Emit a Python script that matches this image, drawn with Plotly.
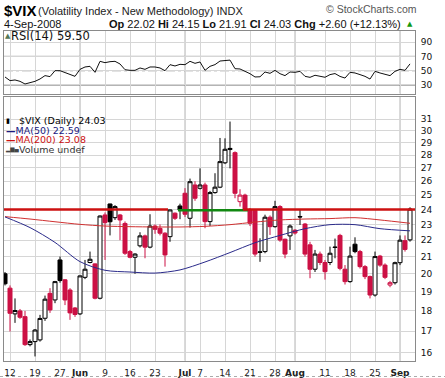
import math
import pandas as pd
import plotly.graph_objects as go

W, H = 445, 378


def px(x):
    return x / W


def py(y):
    return 1 - y / H


# ---------------- data ----------------
holidays = ["2008-05-26", "2008-07-04", "2008-09-01"]
day_keys = [d.strftime("%Y-%m-%d") for d in pd.bdate_range("2008-05-09", "2008-09-04")
            if d.strftime("%Y-%m-%d") not in holidays]
xpos = list(range(len(day_keys)))

opens = [20.0, 19.2, 17.85, 18.0, 17.71, 16.36, 16.5, 16.58, 17.63, 18.92,
         18.57, 20.8, 19.66, 19.1, 18.15, 17.85, 19.8, 20.65, 20.57, 18.66,
         23.63, 24.38, 23.45, 23.63, 23.07, 21.3, 20.96, 21.65, 22.27, 21.57,
         22.9, 22.75, 22.44, 22.22, 23.75, 24.24, 25.13, 23.41, 25.73, 25.49,
         25.73, 23.19, 25.18, 25.57, 27.4, 28.45, 28.2, 24.54, 25.0, 24.0,
         23.95, 21.25, 21.3, 23.48, 22.86, 24.2, 22.06, 22.27, 22.63, 23.53,
         23.03, 21.71, 20.26, 21.15, 20.65, 20.65, 21.58, 22.3, 20.26, 19.56,
         21.75, 21.3, 20.41, 19.84, 18.83, 21.03, 20.5, 19.37, 19.5, 20.64,
         21.97, 22.02]
highs = [20.1, 19.35, 18.65, 18.1, 18.0, 16.6, 17.1, 17.8, 18.8, 19.2,
         19.6, 21.0, 19.7, 19.2, 18.2, 19.9, 20.8, 21.3, 20.6, 23.6,
         23.8, 24.4, 24.3, 23.7, 23.2, 21.4, 21.2, 22.5, 22.35, 23.68,
         23.0, 23.0, 22.5, 24.0, 23.8, 24.4, 25.5, 26.2, 26.0, 26.97,
         25.9, 25.3, 26.6, 29.4, 29.37, 30.8, 28.3, 25.42, 25.1, 24.1,
         24.0, 22.12, 23.65, 23.6, 24.6, 24.3, 22.1, 23.0, 22.7, 23.97,
         23.1, 21.9, 21.4, 21.3, 20.8, 21.6, 22.1, 22.4, 20.5, 21.6,
         22.18, 21.4, 20.5, 19.9, 21.3, 21.1, 20.6, 19.6, 20.7, 22.3,
         22.3, 24.15]
lows = [19.35, 16.98, 17.4, 17.6, 16.3, 16.28, 15.82, 16.5, 17.5, 17.9,
        18.4, 19.5, 18.3, 17.55, 17.7, 17.8, 19.7, 20.6, 18.6, 18.6,
        20.8, 22.3, 23.3, 22.0, 21.1, 20.9, 20.0, 21.55, 20.9, 21.5,
        22.4, 22.3, 20.41, 21.9, 23.3, 23.35, 23.5, 22.8, 24.6, 25.4,
        22.76, 22.9, 25.1, 25.5, 27.3, 26.97, 24.78, 24.2, 23.9, 22.9,
        21.0, 20.69, 21.2, 22.33, 22.8, 21.9, 20.9, 21.4, 22.35, 22.97,
        21.0, 19.75, 20.1, 20.5, 19.67, 20.5, 20.9, 20.2, 19.4, 19.5,
        21.2, 20.3, 19.7, 18.65, 18.75, 20.4, 19.7, 19.25, 19.4, 20.5,
        21.3, 21.91]
closes = [19.44, 17.88, 18.02, 17.68, 16.36, 16.5, 17.05, 17.62, 18.61, 18.05,
          19.56, 19.62, 18.57, 17.9, 17.82, 19.88, 20.26, 20.84, 18.66, 23.56,
          23.12, 23.18, 24.2, 23.3, 21.2, 20.96, 21.15, 22.27, 21.57, 22.9,
          22.69, 22.44, 21.1, 23.97, 23.41, 23.96, 23.68, 25.97, 24.78, 25.73,
          23.19, 25.18, 25.57, 27.49, 28.47, 28.54, 25.13, 25.0, 23.97, 23.08,
          21.15, 21.28, 23.48, 22.86, 24.2, 22.01, 21.15, 22.9, 22.45, 23.5,
          21.15, 20.26, 21.15, 20.65, 20.12, 21.2, 21.55, 20.31, 19.56, 21.03,
          21.3, 20.41, 19.84, 18.83, 21.0, 20.5, 19.8, 19.5, 20.64, 22.0,
          21.43, 24.03]
seed_close = 19.0  # close of the session before the first visible candle

rsi_vals = [41.2, 36.1, 37.0, 35.1, 31.4, 32.8, 35.1, 38.4, 43.1, 41.7,
            50.0, 50.0, 47.7, 44.4, 42.1, 51.9, 55.2, 56.1, 47.7, 63.1,
            61.2, 62.6, 63.1, 59.4, 51.4, 50.5, 50.5, 53.8, 51.9, 55.2,
            55.2, 53.8, 50.0, 58.4, 56.6, 58.9, 58.4, 63.1, 60.3, 62.2,
            50.5, 56.1, 58.5, 63.5, 64.5, 64.8, 52.8, 52.4, 49.1, 45.8,
            41.2, 41.5, 48.2, 46.3, 50.5, 45.8, 43.1, 48.2, 47.7, 49.1,
            42.1, 40.7, 43.6, 41.7, 40.8, 44.5, 46.0, 42.0, 39.7, 47.7,
            46.8, 44.5, 42.1, 38.3, 49.1, 46.8, 44.5, 43.1, 49.1, 51.9,
            50.5, 59.5]

ma_days = ["2008-05-09", "2008-05-16", "2008-05-23", "2008-06-02", "2008-06-09",
           "2008-06-16", "2008-06-23", "2008-06-30", "2008-07-08", "2008-07-15",
           "2008-07-22", "2008-07-29", "2008-08-05", "2008-08-12", "2008-08-19",
           "2008-08-26", "2008-09-04"]
ma50_vals = [23.5, 22.8, 21.86, 20.70, 20.2, 20.1, 20.04, 20.22, 20.68, 21.24,
             21.84, 22.30, 22.73, 22.99, 22.99, 22.73, 22.59]
ma200_vals = [23.52, 23.36, 23.18, 23.01, 22.90, 22.86, 22.84, 22.84, 22.88, 22.99,
              23.16, 23.30, 23.36, 23.39, 23.45, 23.30, 23.08]

# user-drawn horizontal trend lines (level, start pos, end pos, colour)
trend_levels = [24.0, 23.95, 24.0]
trend_start = [-0.2, 34.6, 47.6]
trend_end = [32.6, 48.6, 82.0]
trend_colors = ["#cc1111", "#118811", "#cc1111"]

tick_days = ["2008-05-12", "2008-05-19", "2008-05-27", "2008-06-02", "2008-06-09",
             "2008-06-16", "2008-06-23", "2008-07-01", "2008-07-07", "2008-07-14",
             "2008-07-21", "2008-07-28", "2008-08-01", "2008-08-11", "2008-08-18",
             "2008-08-25", "2008-09-02"]
tick_text = ["12", "19", "27", "<b>Jun</b>", "9", "16", "23", "<b>Jul</b>", "7", "14",
             "21", "28", "<b>Aug</b>", "11", "18", "25", "<b>Sep</b>"]
month_days = ["2008-06-02", "2008-07-01", "2008-08-01", "2008-09-02"]

price_ticks = list(range(16, 32))
rsi_ticks = [30, 50, 70, 90]

# ---------------- figure ----------------
RED = "#cc1144"
GRID = "#d6d6d6"
FONT = "DejaVu Sans"
ARIAL = "Liberation Sans"

fig = go.Figure()

prev_close = [seed_close] + closes[:-1]
groups = {"black": [], "red": []}
for k in xpos:
    groups["black" if closes[k] >= prev_close[k] else "red"].append(k)

for name, color in (("black", "#000000"), ("red", RED)):
    ks = groups[name]
    fig.add_trace(go.Candlestick(
        x=[xpos[k] for k in ks],
        open=[opens[k] for k in ks], high=[highs[k] for k in ks],
        low=[lows[k] for k in ks], close=[closes[k] for k in ks],
        increasing=dict(line=dict(color=color, width=1), fillcolor="#ffffff"),
        decreasing=dict(line=dict(color=color, width=1), fillcolor=color),
        whiskerwidth=0, hoverinfo="skip", xaxis="x", yaxis="y"))

ma_x = [day_keys.index(d) for d in ma_days]
fig.add_trace(go.Scatter(x=ma_x, y=ma200_vals, mode="lines",
                         line=dict(color="#d03030", width=1, shape="spline", smoothing=0.8),
                         hoverinfo="skip", xaxis="x", yaxis="y"))
fig.add_trace(go.Scatter(x=ma_x, y=ma50_vals, mode="lines",
                         line=dict(color="#2a2a8a", width=1, shape="spline", smoothing=0.8),
                         hoverinfo="skip", xaxis="x", yaxis="y"))
for lvl, a, b, c in zip(trend_levels, trend_start, trend_end, trend_colors):
    fig.add_trace(go.Scatter(x=[a, b], y=[lvl, lvl], mode="lines",
                             line=dict(color=c, width=2.5), hoverinfo="skip",
                             xaxis="x", yaxis="y"))

fig.add_trace(go.Scatter(x=xpos, y=rsi_vals, mode="lines",
                         line=dict(color="#111111", width=1), hoverinfo="skip",
                         xaxis="x2", yaxis="y2"))

tick_x = [day_keys.index(d) for d in tick_days]
month_x = [day_keys.index(d) for d in month_days]
xr = [-0.2, 82.0]
xdom = [px(4), px(415)]

shapes = []
for mx in month_x:
    for yr in ("y domain", "y2 domain"):
        shapes.append(dict(type="line", xref="x" if yr == "y domain" else "x2", yref=yr,
                           x0=mx, x1=mx, y0=0, y1=1,
                           line=dict(color="#b4b4b4", width=1), layer="below"))
for lv, dash in ((70, "solid"), (30, "solid"), (50, "dashdot")):
    shapes.append(dict(type="line", xref="x2 domain", yref="y2", x0=0, x1=1, y0=lv, y1=lv,
                       line=dict(color="#666666", width=1, dash=dash), layer="below"))
shapes.append(dict(type="line", xref="paper", yref="paper", x0=0, x1=1,
                   y0=py(376.5), y1=py(376.5), line=dict(color="#aaaaaa", width=1, dash="dot")))

chg = closes[-1] - closes[-2]
pct = chg / closes[-2] * 100

ann = []


def add(text, x, y, size, color="#000000", family=FONT, xanchor="left"):
    ann.append(dict(text=text, x=px(x), y=py(y), xref="paper", yref="paper",
                    xanchor=xanchor, yanchor="middle", showarrow=False, borderpad=0,
                    font=dict(family=family, size=size, color=color)))


add("<b>$VIX</b>", 3, 10.5, 15, family=ARIAL)
add("(Volatility Index - New Methodology) INDX", 37, 11, 11, "#222222", ARIAL)
add("© StockCharts.com", 418, 9.5, 10.5, "#555555", ARIAL, "right")
add("4-Sep-2008", 3, 24, 11, "#111111", ARIAL)
add("<b>Op</b> %.2f <b>Hi</b> %.2f <b>Lo</b> %.2f <b>Cl</b> %.2f <b>Chg</b> %+.2f (%+.2f%%)"
    % (opens[-1], highs[-1], lows[-1], closes[-1], chg, pct), 108, 24, 11, "#111111", ARIAL)
add("▲", 406, 24, 7, "#119911")
add("▲", 4, 35.5, 7, "#557755")
add("RSI(14) %.2f" % rsi_vals[-1], 10, 35.5, 11.5, "#111111")
add("▮", 5, 120.8, 7, "#000000")
add("$VIX (Daily) %.2f" % closes[-1], 18, 120.8, 9.5, "#000000")
add("<b>—</b>MA(50) %.2f" % ma50_vals[-1], 5, 130.2, 9.5, "#1a1a80")
add("<b>—</b>MA(200) %.2f" % ma200_vals[-1], 5, 139.6, 9.5, "#cc1111")
add("▂▆▄", 4, 149, 5.5, "#444444")
add("Volume undef", 18, 149, 9.5, "#333333")

axis_common = dict(showgrid=True, gridcolor=GRID, gridwidth=1, zeroline=False,
                   showline=True, mirror=True, linecolor="#8a8a8a", linewidth=1,
                   ticks="", fixedrange=True)

fig.update_layout(
    width=W, height=H, margin=dict(l=0, r=0, t=0, b=0),
    paper_bgcolor="white", plot_bgcolor="white", showlegend=False,
    boxgap=0.1, boxgroupgap=0.11,
    xaxis=dict(domain=xdom, range=xr, tickmode="array", tickvals=tick_x, ticktext=tick_text,
               tickfont=dict(family=FONT, size=9, color="#222222"), anchor="y",
               rangeslider=dict(visible=False), ticklabelstandoff=3, **axis_common),
    yaxis=dict(domain=[py(360.7), py(96.7)], type="log",
               range=[math.log10(15.63), math.log10(33.05)], side="right", anchor="x",
               tickmode="array", tickvals=price_ticks, ticktext=[str(v) for v in price_ticks],
               tickfont=dict(family=FONT, size=9, color="#111111"), ticklabelstandoff=3,
               **axis_common),
    xaxis2=dict(domain=xdom, range=xr, tickmode="array", tickvals=tick_x,
                showticklabels=False, anchor="y2", **axis_common),
    yaxis2=dict(domain=[py(93.5), py(30.5)], range=[18.1, 106.2], side="right", anchor="x2",
                tickmode="array", tickvals=rsi_ticks, ticktext=[str(v) for v in rsi_ticks],
                tickfont=dict(family=FONT, size=9, color="#111111"), ticklabelstandoff=3,
                **axis_common),
    shapes=shapes, annotations=ann,
)

fig.write_html("out.html", config={"displayModeBar": False, "staticPlot": True},
               post_script="document.body.style.margin='0';document.body.style.overflow='hidden';")
